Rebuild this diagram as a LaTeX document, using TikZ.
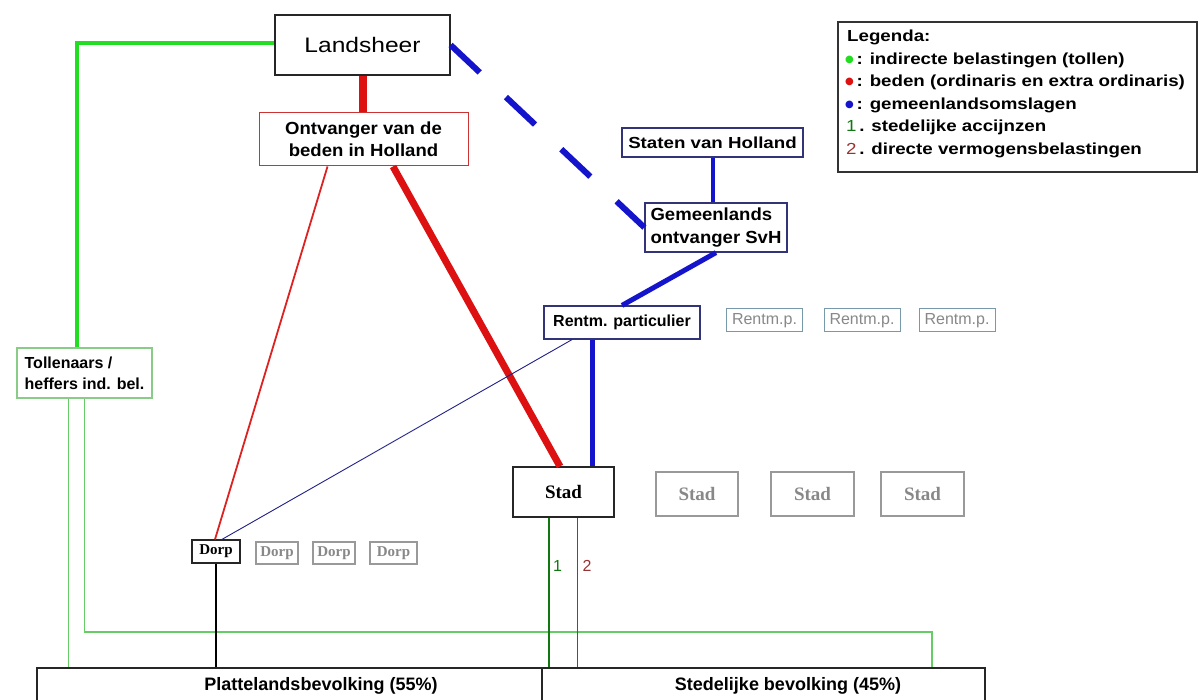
\documentclass[tikz,border=0pt]{standalone}
\usepackage{fontspec}
\setmainfont{Liberation Sans}
\newfontfamily\sfw[FakeStretch=1.17]{Liberation Sans}
\newfontfamily\sfm[FakeStretch=1.06]{Liberation Sans}
\newfontfamily\tms{Liberation Serif}
\newfontfamily\dejavu{DejaVu Sans}
\usetikzlibrary{calc}
\definecolor{gthick}{HTML}{22DD22}
\definecolor{gthin}{HTML}{66CC66}
\definecolor{gborder}{HTML}{88CC88}
\definecolor{rthick}{HTML}{DD1111}
\definecolor{rthin}{HTML}{DD2222}
\definecolor{rborder}{HTML}{CC3333}
\definecolor{bthick}{HTML}{1414CC}
\definecolor{nborder}{HTML}{333377}
\definecolor{nthin}{HTML}{222288}
\definecolor{dgreen}{HTML}{117711}
\definecolor{brown}{HTML}{993333}
\definecolor{gborder2}{HTML}{999999}
\definecolor{gtext}{HTML}{888888}
\definecolor{rpborder}{HTML}{7799AA}
\newcommand{\legdot}[1]{\raisebox{2pt}{\color{#1}\dejavu\fontsize{10}{12}\selectfont ●}}
\begin{document}
\begin{tikzpicture}[x=1pt,y=-1pt,
  box/.style={draw, rectangle, inner sep=0pt, fill=white},
  mainbox/.style={box, draw=black!85, line width=1.2pt},
  navybox/.style={box, draw=nborder, line width=1.2pt, font=\sfw\bfseries\fontsize{15.5}{19}\selectfont},
  greybox/.style={box, draw=gborder2, line width=1.2pt, text=gtext},
  rpbox/.style={box, draw=rpborder, line width=1pt, text=gtext, minimum width=76pt, minimum height=23pt, font=\fontsize{16}{19}\selectfont},
  dorpbox/.style={minimum height=22pt, font=\tms\bfseries\fontsize{15}{18}\selectfont},
  stadbox/.style={font=\tms\bfseries\fontsize{19}{22}\selectfont},
  legtext/.style={anchor=west, inner sep=0pt, font=\sfw\bfseries\fontsize{16}{19}\selectfont},
  popbox/.style={box, draw=black!85, line width=1.2pt, minimum height=36pt},
  poptext/.style={inner sep=0pt, font=\bfseries\fontsize{18}{21}\selectfont}
]
\useasboundingbox (0,0) rectangle (1200,700);
\clip (0,0) rectangle (1200,700);
\fill[white] (0,0) rectangle (1200,700);

% nodes
\node[mainbox, minimum width=175pt, minimum height=60pt, font=\sfw\fontsize{21}{24}\selectfont] (land) at (362.5,45) {Landsheer};
\node[box, draw=rborder, line width=1pt, minimum width=209pt, minimum height=53pt, align=center, font=\sfm\bfseries\fontsize{17.5}{22}\selectfont] (ontv) at (363.5,139.5) {Ontvanger van de\\beden in Holland};
\node[navybox, minimum width=181pt, minimum height=29pt, font=\sfw\bfseries\fontsize{16}{19}\selectfont] (staten) at (712.5,142.5) {Staten van Holland};
\node[navybox, minimum width=142pt, minimum height=49pt, align=left, font=\sfm\bfseries\fontsize{17.5}{23}\selectfont] (gem) at (716,227.5) {Gemeenlands\\ontvanger SvH};
\node[box, draw=nborder, line width=1.2pt, minimum width=156pt, minimum height=33pt, font=\bfseries\fontsize{16}{19}\selectfont] (rentm) at (622,322.5) {Rentm. particulier};
\node[rpbox] (rp1) at (764.5,320.5) {Rentm.p.};
\node[rpbox] (rp2) at (862,320.5) {Rentm.p.};
\node[rpbox] (rp3) at (957,320.5) {Rentm.p.};
\node[box, draw=gborder, line width=1.2pt, minimum width=135pt, minimum height=50pt, align=left, font=\bfseries\fontsize{16}{21}\selectfont] (tol) at (84.5,373) {Tollenaars /\\heffers ind. bel.};
\node[mainbox, dorpbox, minimum width=48pt, minimum height=23pt] (dorp) at (216,551.5) {Dorp};
\node[greybox, dorpbox, minimum width=42pt] (dorp2) at (277,553) {Dorp};
\node[greybox, dorpbox, minimum width=42pt] (dorp3) at (334,553) {Dorp};
\node[greybox, dorpbox, minimum width=47pt] (dorp4) at (393.5,553) {Dorp};
\node[mainbox, stadbox, minimum width=101pt, minimum height=50pt] (stad) at (563.5,492) {Stad};
\node[greybox, stadbox, minimum width=82pt, minimum height=44pt] (stad2) at (697,494) {Stad};
\node[greybox, stadbox, minimum width=83pt, minimum height=44pt] (stad3) at (812.5,494) {Stad};
\node[greybox, stadbox, minimum width=83pt, minimum height=44pt] (stad4) at (922.5,494) {Stad};
\node[popbox, minimum width=505pt] (plat) at (289.5,686) {};
\node[popbox, minimum width=443pt] (sted) at (763.5,686) {};
\node[poptext] (platlab) at (321,686) {Plattelandsbevolking (55\%)};
\node[poptext] (stedlab) at (788,686) {Stedelijke bevolking (45\%)};

% legend
\node[box, draw=black!80, line width=1.4pt, minimum width=359pt, minimum height=150pt] (legend) at (1017.5,97) {};
\node[legtext] (l0) at (847,37) {Legenda:};
\node[legtext] (l1) at (845,60) {\legdot{gthick}\,: indirecte belastingen (tollen)};
\node[legtext] (l2) at (845,82.5) {\legdot{rthick}\,: beden (ordinaris en extra ordinaris)};
\node[legtext] (l3) at (845,105) {\legdot{bthick}\,: gemeenlandsomslagen};
\node[legtext] (l4) at (846,127.5) {{\mdseries\color{dgreen}1}\,. stedelijke accijnzen};
\node[legtext] (l5) at (846,150) {{\mdseries\color{brown}2}\,. directe vermogensbelastingen};

% connectors
\draw[gthick, line width=4pt] ([yshift=2pt]land.west) -| ([xshift=-7.5pt]tol.north);
\draw[gthin, line width=1.3pt] ([xshift=-16pt]tol.south) -- ([xshift=-16pt]tol.south |- plat.north);
\coordinate (gc) at (932,632);
\draw[gthin, line width=1.3pt] (tol.south) |- (gc) -- (gc |- sted.north);

\draw[rthick, line width=8pt] (land.south) -- (land.south |- ontv.north);
\draw[rthick, line width=7pt] ([xshift=29.5pt]ontv.south) -- ([xshift=-3.5pt]stad.north);
\draw[rthin, line width=1.8pt] ([xshift=-36pt]ontv.south) -- ([xshift=-1pt]dorp.north);

\draw[bthick, line width=6pt, dash pattern=on 40pt off 36pt] (land.east) -- (gem.west);
\draw[bthick, line width=4pt] (staten.south) -- (staten.south |- gem.north);
\draw[bthick, line width=5pt] (gem.south) -- (rentm.north);
\draw[bthick, line width=5pt] ([xshift=-30pt]rentm.south) -- ([xshift=-30pt]rentm.south |- stad.north);
\draw[nthin, line width=0.9pt] ([xshift=-50pt]rentm.south) -- ([xshift=6pt]dorp.north);

\draw[black, line width=1.2pt] (dorp.south) -- (dorp.south |- plat.north);
\draw[dgreen, line width=2.5pt] ([xshift=-14.5pt]stad.south) -- ([xshift=-14.5pt]stad.south |- sted.north);
\draw[brown, line width=1pt] ([xshift=13.5pt]stad.south) -- ([xshift=13.5pt]stad.south |- sted.north);
\node[text=dgreen, inner sep=0pt, font=\fontsize{16}{19}\selectfont] (n1) at (557.5,566) {1};
\node[text=brown, inner sep=0pt, font=\fontsize{16}{19}\selectfont] (n2) at (587,566) {2};
\end{tikzpicture}
\end{document}
